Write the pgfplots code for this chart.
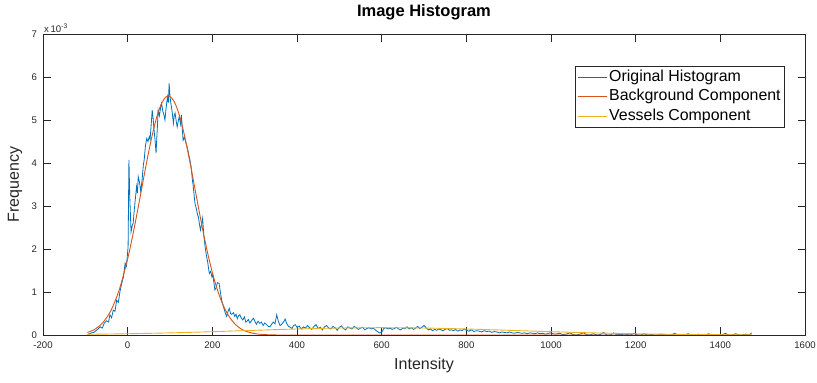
\documentclass[border=0pt]{standalone}
\usepackage{pgfplots}
\pgfplotsset{compat=1.18}
\usepackage{fontspec}
\setmainfont{Liberation Sans}
\definecolor{mblue}{rgb}{0,0.447,0.741}
\definecolor{morange}{rgb}{0.85,0.325,0.098}
\definecolor{myellow}{rgb}{0.929,0.694,0.125}
\definecolor{maxis}{rgb}{0.15,0.15,0.15}
\begin{document}
\begin{tikzpicture}
\useasboundingbox (0,0) rectangle (817pt,383pt);
\begin{axis}[
  at={(43pt,48pt)}, anchor=south west,
  scale only axis, width=762pt, height=301pt,
  xmin=-200, xmax=1600, ymin=0, ymax=7,
  clip mode=individual,
  xtick={-200,0,200,400,600,800,1000,1200,1400,1600},
  ytick={0,1,2,3,4,5,6,7},
  axis line style={maxis, line width=0.6pt},
  tick style={maxis, line width=0.6pt},
  major tick length=7.5pt,
  tick align=inside,
  /pgf/number format/assume math mode=true,
  /pgf/number format/set thousands separator={},
  ticklabel style={font=\fontsize{9.6}{11}\selectfont, text=maxis},
  xticklabel style={yshift=-3.5pt},
  yticklabel style={xshift=-2.5pt},
  xlabel={Intensity}, ylabel={Frequency},
  xlabel style={at={(axis description cs:0.5,-0.0997)}, anchor=center, font=\fontsize{16}{18}\selectfont, text=maxis},
  ylabel style={at={(axis description cs:-0.0367,0.5)}, anchor=center, font=\fontsize{16}{18}\selectfont, text=maxis},
  title={Image Histogram},
  every axis title shift=0pt,
  title style={at={(axis description cs:0.5,1.073)}, anchor=center, font=\fontsize{16.5}{18}\selectfont\bfseries},
  legend cell align=left,
  legend image code/.code={\draw[#1] (0pt,0pt) -- (29pt,0pt);},
  legend style={at={(1,1)}, anchor=north east, xshift=-20pt, yshift=-32pt,
    draw=maxis, line width=0.6pt, font=\fontsize{15.9}{17}\selectfont,
    inner xsep=2pt, inner ysep=1.5pt, row sep=0.5pt,
    nodes={inner sep=2pt, text height=11.5pt, text depth=3.5pt}},
]
\node[anchor=base west, inner sep=0pt, xshift=1pt, yshift=2pt, font=\fontsize{9.6}{11}\selectfont, text=maxis] at (rel axis cs:0,1) {x\,10\textsuperscript{-3}};
\addplot[mblue, line width=0.8pt] coordinates {
(-94,0.02) (-90,0.03) (-85,0.05) (-80,0.06) (-75,0.10) (-70,0.14) (-65,0.19) (-60,0.16) (-55,0.28) (-50,0.33)
(-45,0.30) (-42,0.47) (-38,0.40) (-34,0.58) (-30,0.55) (-26,0.81) (-22,0.76) (-18,1.02) (-14,1.20) (-10,1.35)
(-6,1.67) (-3,1.60) (-1,1.82) (1,2.05) (3,4.07) (5,3.20) (8,2.40) (11,2.55) (13,2.60) (16,2.95)
(19,3.25) (21,3.45) (23,3.30) (25,3.68) (28,3.55) (31,3.33) (34,3.60) (37,3.95) (39,4.07) (42,4.40)
(45,4.57) (48,4.50) (51,4.61) (53,4.55) (56,4.95) (58,5.23) (60,5.05) (63,4.70) (65,4.50) (67,4.23)
(70,4.80) (72,5.23) (75,5.10) (78,5.30) (80,5.39) (83,5.20) (85,5.15) (88,5.00) (91,5.30) (94,5.54)
(96,5.40) (98,5.85) (100,5.55) (102,5.39) (105,5.20) (108,4.92) (110,5.10) (112,5.16) (115,4.95) (117,4.84)
(120,5.00) (122,5.08) (125,4.90) (127,5.12) (129,4.80) (131,4.53) (134,4.60) (138,4.46) (141,4.35) (144,4.20)
(147,4.07) (150,3.90) (153,3.60) (155,3.45) (157,3.25) (159,3.06) (162,2.95) (165,2.80) (167,2.75) (170,2.55)
(172,2.44) (175,2.60) (177,2.71) (180,2.30) (183,2.05) (186,1.85) (189,1.70) (191,1.55) (193,1.43) (196,1.48)
(199,1.35) (201,1.40) (204,1.20) (206,1.05) (209,1.10) (212,1.22) (216,1.20) (219,1.00) (222,0.81) (225,0.70)
(228,0.60) (231,0.50) (234,0.43) (237,0.55) (240,0.62) (243,0.50) (246,0.48) (250,0.52) (253,0.43) (256,0.48)
(259,0.38) (262,0.45) (265,0.47) (268,0.40) (272,0.35) (276,0.42) (279,0.30) (281,0.31) (285,0.36) (289,0.28)
(293,0.34) (297,0.39) (300,0.33) (304,0.25) (308,0.32) (312,0.27) (316,0.30) (320,0.22) (324,0.28) (328,0.24)
(332,0.20) (336,0.19) (340,0.25) (344,0.30) (348,0.26) (352,0.47) (356,0.32) (360,0.22) (364,0.25) (368,0.30)
(372,0.37) (376,0.26) (380,0.20) (384,0.18) (388,0.15) (392,0.22) (396,0.24) (400,0.18) (405,0.21) (410,0.14)
(415,0.19) (420,0.16) (425,0.22) (430,0.17) (435,0.13) (440,0.20) (445,0.24) (450,0.15) (455,0.18) (460,0.12)
(465,0.19) (470,0.22) (475,0.16) (480,0.14) (485,0.20) (490,0.17) (495,0.11) (500,0.18) (505,0.21) (510,0.15)
(515,0.12) (520,0.19) (525,0.16) (530,0.14) (535,0.20) (540,0.17) (545,0.13) (550,0.16) (555,0.18) (560,0.12)
(565,0.15) (570,0.17) (575,0.14) (580,0.16) (585,0.12) (590,0.08) (595,0.05) (600,0.06) (605,0.15) (610,0.17)
(615,0.14) (620,0.16) (625,0.13) (630,0.15) (635,0.18) (640,0.14) (645,0.12) (650,0.16) (655,0.15) (660,0.19)
(665,0.14) (670,0.17) (675,0.13) (680,0.16) (685,0.20) (690,0.15) (695,0.18) (700,0.22) (705,0.17) (710,0.12)
(715,0.14) (720,0.10) (725,0.13) (730,0.11) (735,0.14) (740,0.12) (745,0.10) (750,0.13) (755,0.15) (760,0.11)
(765,0.12) (770,0.10) (775,0.13) (780,0.09) (785,0.12) (790,0.10) (795,0.14) (800,0.11) (806,0.09) (812,0.12)
(818,0.08) (824,0.10) (830,0.09) (836,0.07) (842,0.10) (848,0.08) (854,0.09) (860,0.06) (866,0.08) (872,0.07)
(878,0.05) (884,0.07) (890,0.06) (896,0.05) (902,0.07) (908,0.05) (914,0.04) (920,0.06) (926,0.05) (932,0.04)
(938,0.05) (944,0.03) (950,0.05) (956,0.04) (962,0.03) (968,0.05) (974,0.03) (980,0.04) (986,0.02) (992,0.03)
(998,0.05) (1005,0.03) (1012,0.02) (1020,0.04) (1028,0.01) (1036,0.02) (1044,0.05) (1052,0.01) (1060,0.00) (1068,0.02)
(1076,0.05) (1084,0.01) (1092,0.00) (1100,0.03) (1108,0.00) (1116,0.01) (1124,0.06) (1132,0.00) (1140,0.00) (1148,0.05)
(1156,0.00) (1164,0.02) (1172,0.00) (1180,0.01) (1188,0.00) (1196,0.04) (1204,0.00) (1212,0.00) (1220,0.03) (1228,0.00)
(1236,0.01) (1244,0.00) (1252,0.00) (1260,0.02) (1268,0.00) (1276,0.00) (1284,0.00) (1292,0.04) (1300,0.00) (1308,0.01)
(1316,0.00) (1324,0.03) (1332,0.00) (1340,0.00) (1348,0.02) (1356,0.00) (1364,0.00) (1372,0.03) (1380,0.00) (1388,0.00)
(1396,0.01) (1404,0.00) (1412,0.04) (1420,0.00) (1428,0.00) (1436,0.03) (1444,0.00) (1452,0.00) (1460,0.02) (1468,0.00)
(1474,0.05)
};
\addlegendentry{Original Histogram}
\addplot[morange, line width=0.9pt, smooth] coordinates {
(-95,0.060) (-80,0.119) (-60,0.272) (-40,0.561) (-20,1.048) (0,1.773) (10,2.222) (20,2.717) (30,3.240)
(40,3.769) (50,4.277) (60,4.734) (70,5.113) (80,5.386) (90,5.535) (96,5.560) (100,5.549) (110,5.427)
(120,5.177) (130,4.818) (140,4.373) (150,3.873) (160,3.346) (170,2.820) (180,2.318) (190,1.859)
(200,1.454) (210,1.110) (220,0.826) (230,0.600) (240,0.425) (250,0.294) (260,0.198) (270,0.130)
(280,0.084) (300,0.032) (320,0.011) (350,0.002) (400,0.000) (1474,0.000)
};
\addlegendentry{Background Component}
\addplot[myellow, line width=0.9pt, smooth] coordinates {
(-95,0.016) (0,0.029) (100,0.049) (200,0.077) (300,0.109) (400,0.140) (500,0.162) (600,0.170)
(700,0.162) (800,0.140) (900,0.109) (1000,0.077) (1100,0.049) (1200,0.029) (1300,0.015) (1400,0.007) (1474,0.004)
};
\addlegendentry{Vessels Component}
\end{axis}
\end{tikzpicture}
\end{document}
